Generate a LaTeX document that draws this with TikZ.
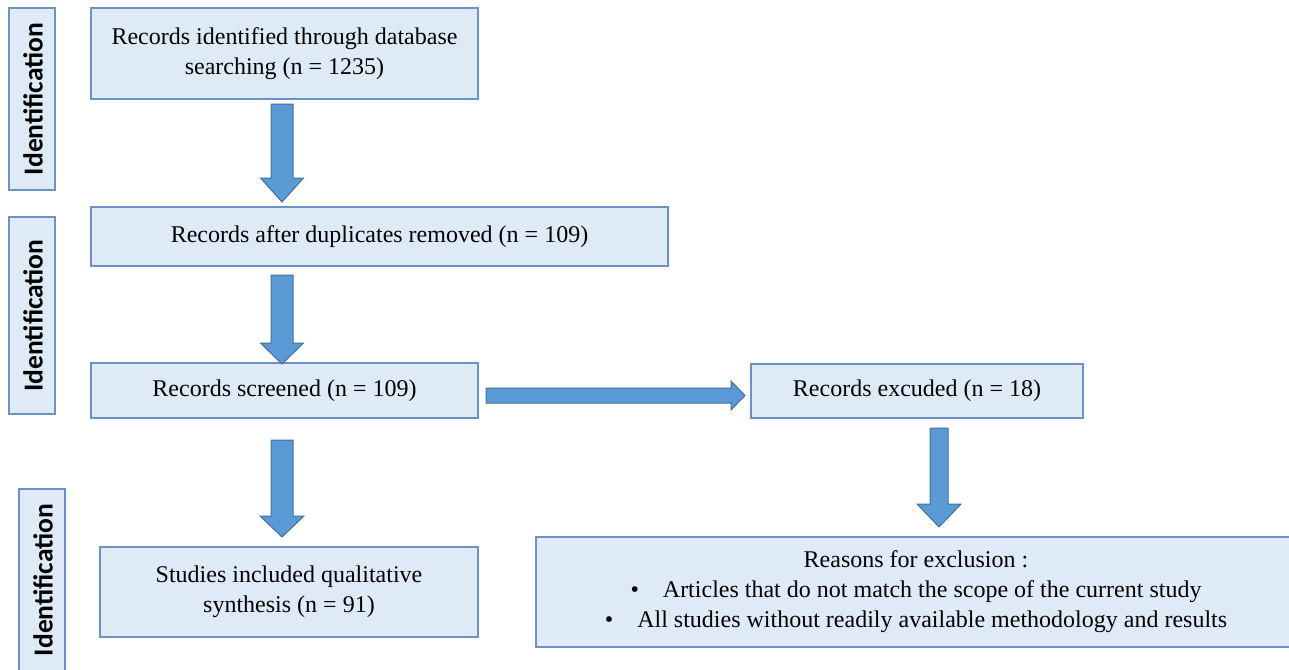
\documentclass[tikz,border=0pt]{standalone}
\usepackage{fontspec}
\setmainfont{Liberation Serif}
\newfontfamily\labfont{Carlito}
\usetikzlibrary{calc}
\definecolor{boxfill}{HTML}{DEEBF7}
\definecolor{boxline}{HTML}{6A92C4}
\definecolor{arrfill}{HTML}{5B9BD5}
\definecolor{arrline}{HTML}{41719C}
\tikzset{
  flowbox/.style={draw=boxline, fill=boxfill, line width=1.2pt, inner sep=0pt, align=center, font=\fontsize{24}{30}\selectfont},
  sidebox/.style={draw=boxline, fill=boxfill, line width=1.2pt, inner sep=0pt},
  sidetext/.style={rotate=90, font=\labfont\bfseries\fontsize{27.5}{30}\selectfont},
  blockarrow/.style={draw=arrline, fill=arrfill, line width=1pt, line join=miter},
}
% #1 start, #2 tip, #3 shaft half width, #4 head half width, #5 head length
\newcommand\blockdown[5]{%
  \path[blockarrow] let \p1=(#1), \p2=(#2) in
    (\x1-#3,\y1) -- (\x1+#3,\y1) -- (\x1+#3,\y2+#5) -- (\x1+#4,\y2+#5) -- (\x1,\y2)
    -- (\x1-#4,\y2+#5) -- (\x1-#3,\y2+#5) -- cycle;}
\newcommand\blockright[5]{%
  \path[blockarrow] let \p1=(#1), \p2=(#2) in
    (\x1,\y1+#3) -- (\x2-#5,\y1+#3) -- (\x2-#5,\y1+#4) -- (\x2,\y1)
    -- (\x2-#5,\y1-#4) -- (\x2-#5,\y1-#3) -- (\x1,\y1-#3) -- cycle;}
\begin{document}
\begin{tikzpicture}[x=1pt,y=-1pt]
\useasboundingbox (0,0) rectangle (1289,669);
% side labels
\draw[sidebox] (9,8) rectangle (55,190);
\node[sidetext] (s1) at (33,99) {Identification};
\draw[sidebox] (9,217) rectangle (55,414);
\node[sidetext] (s2) at (33,315.5) {Identification};
\draw[sidebox] (19,489) rectangle (65,680);
\node[sidetext] (s3) at (43,580) {Identification};
% boxes
\node[flowbox, minimum width=387pt, minimum height=91pt] (b1) at (284.5,53.5) {Records identified through database\\searching (n = 1235)};
\node[flowbox, minimum width=577pt, minimum height=59pt] (b2) at (379.5,236.5) {Records after duplicates removed (n = 109)};
\node[flowbox, minimum width=387pt, minimum height=55pt] (b3) at (284.5,390.5) {Records screened (n = 109)};
\node[flowbox, minimum width=332pt, minimum height=54pt] (b5) at (917,391) {Records excuded (n = 18)};
\node[flowbox, minimum width=378pt, minimum height=90pt] (b4) at (289,592) {Studies included qualitative\\synthesis (n = 91)};
\node[flowbox, minimum width=760pt, minimum height=110pt] (b6) at (916,592) {Reasons for exclusion :\\\textbullet\quad Articles that do not match the scope of the current study\\\textbullet\quad All studies without readily available methodology and results};
% arrows
\coordinate (a1s) at (282,104); \coordinate (a1e) at (282,202);
\coordinate (a2s) at (282,275); \coordinate (a2e) at (282,364);
\coordinate (a3s) at (282,440); \coordinate (a3e) at (282,537);
\coordinate (a4s) at (939,428); \coordinate (a4e) at (939,527);
\coordinate (a5s) at (486,395.5); \coordinate (a5e) at (745,395.5);
\blockdown{a1s}{a1e}{11pt}{21.5pt}{24pt}
\blockdown{a2s}{a2e}{11pt}{21.5pt}{21pt}
\blockdown{a3s}{a3e}{11pt}{22pt}{21pt}
\blockdown{a4s}{a4e}{9pt}{22pt}{23pt}
\blockright{a5s}{a5e}{7.5pt}{14.5pt}{14pt}
\end{tikzpicture}
\end{document}
